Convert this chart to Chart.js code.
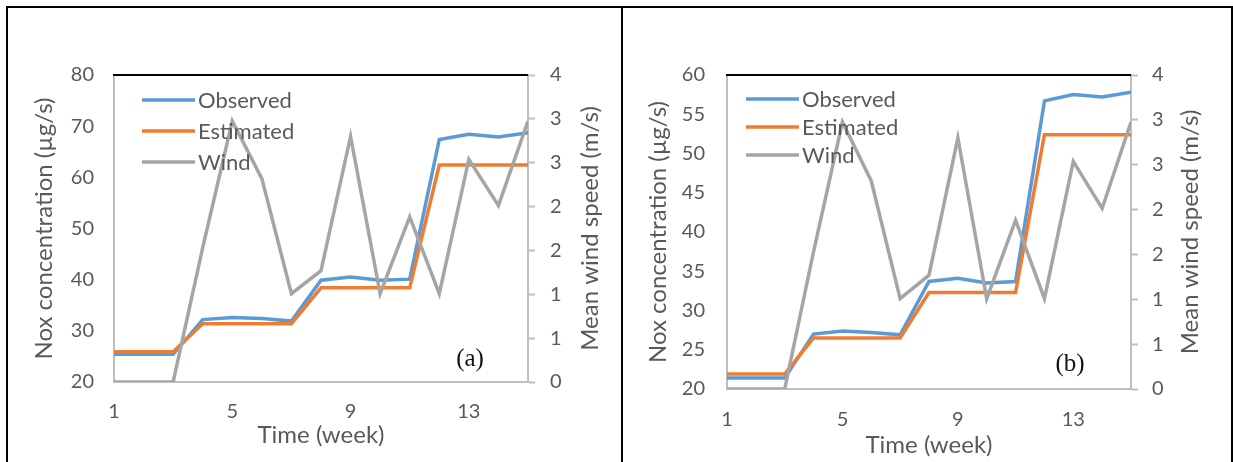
<!DOCTYPE html>
<html>
<head>
<meta charset="utf-8">
<script src="https://cdn.jsdelivr.net/npm/chart.js@4"></script>
<style>
  html, body { margin: 0; padding: 0; background: #fff; }
  body { width: 1233px; height: 462px; position: relative; overflow: hidden; }
  .rule { position: absolute; background: #000; }
  .panel { position: absolute; top: 8px; }
</style>
</head>
<body>
<div class="rule" style="left:6px; top:6px; width:1227px; height:2px"></div>
<div class="rule" style="left:6px; top:6px; width:2px; height:456px"></div>
<div class="rule" style="left:621px; top:6px; width:2px; height:456px"></div>
<div class="rule" style="left:1231px; top:6px; width:2px; height:456px"></div>

<div class="panel" style="left:8px"><canvas id="chartA" width="613" height="454"></canvas></div>
<div class="panel" style="left:623px"><canvas id="chartB" width="608" height="454"></canvas></div>

<script>
// Weeks and tick labels
const weeks = [1, 2, 3, 4, 5, 6, 7, 8, 9, 10, 11, 12, 13, 14, 15];
const weekTicks = [1, 5, 9, 13];

// Mean wind speed (m/s), same for both panels
const windSpeed = [0, 0, 0, 1.75, 3.4, 2.65, 1.15, 1.45, 3.2, 1.15, 2.15, 1.15, 2.9, 2.3, 3.4];
const windTicks = [0, 0.571, 1.143, 1.714, 2.286, 2.857, 3.429, 4];
const windTickLabels = ['0', '1', '1', '2', '2', '3', '3', '4'];

// Panel (a)
const observedA = [25.4, 25.4, 25.4, 32.2, 32.6, 32.4, 31.9, 39.9, 40.5, 39.9, 40.1, 67.4, 68.4, 67.9, 68.7];
const estimatedA = [25.9, 25.9, 25.9, 31.4, 31.4, 31.4, 31.4, 38.4, 38.4, 38.4, 38.4, 62.4, 62.4, 62.4, 62.4];
const noxTicksA = [20, 30, 40, 50, 60, 70, 80];

// Panel (b)
const observedB = [21.4, 21.4, 21.4, 27.0, 27.4, 27.2, 26.9, 33.7, 34.1, 33.5, 33.7, 56.7, 57.5, 57.2, 57.8];
const estimatedB = [21.9, 21.9, 21.9, 26.5, 26.5, 26.5, 26.5, 32.3, 32.3, 32.3, 32.3, 52.4, 52.4, 52.4, 52.4];
const noxTicksB = [20, 25, 30, 35, 40, 45, 50, 55, 60];

const windTitle = 'Mean wind speed (m/s)';
const textGray = '#595959';
const axisGray = '#BFBFBF';

Chart.defaults.font.family = 'Lato';
Chart.defaults.color = textGray;

// Legend inside the plot, black top edge, right title (reads upwards) and panel letter
const panelDecor = {
  id: 'panelDecor',
  afterDraw(chart, args, opts) {
    const ctx = chart.ctx;
    const area = chart.chartArea;
    ctx.save();

    ctx.strokeStyle = '#000';
    ctx.lineWidth = 2;
    ctx.beginPath();
    ctx.moveTo(area.left - 1, area.top);
    ctx.lineTo(area.right, area.top);
    ctx.stroke();

    ctx.font = '22px Lato';
    ctx.textBaseline = 'middle';
    ctx.textAlign = 'left';
    chart.data.datasets.forEach((ds, i) => {
      const y = area.top + opts.legendTop + i * opts.legendGap;
      const x = area.left + opts.legendLeft;
      ctx.strokeStyle = ds.borderColor;
      ctx.lineWidth = 3.5;
      ctx.beginPath();
      ctx.moveTo(x, y);
      ctx.lineTo(x + 53, y);
      ctx.stroke();
      ctx.fillStyle = textGray;
      ctx.fillText(ds.label, x + 56, y + 1);
    });

    // right axis title, rotated so it reads bottom to top
    ctx.save();
    ctx.translate(area.right + opts.windTitleX, (area.top + area.bottom) / 2);
    ctx.rotate(-Math.PI / 2);
    ctx.font = '24px Lato';
    ctx.textAlign = 'center';
    ctx.fillStyle = textGray;
    ctx.fillText(windTitle, 0, 0);
    ctx.restore();

    ctx.font = '25px "Liberation Serif"';
    ctx.fillStyle = '#111';
    ctx.textAlign = 'center';
    ctx.fillText(opts.letter, area.left + opts.letterX, area.top + opts.letterY);
    ctx.restore();
  }
};

function createChart(canvasId, observed, estimated, noxTicks, geo) {
  const ctx = document.getElementById(canvasId).getContext('2d');
  const toPoints = vals => vals.map((v, i) => ({ x: weeks[i], y: v }));

  new Chart(ctx, {
    type: 'line',
    data: {
      datasets: [
        { label: 'Observed', data: toPoints(observed), borderColor: '#5B9BD5', yAxisID: 'y', order: 3 },
        { label: 'Estimated', data: toPoints(estimated), borderColor: '#ED7D31', yAxisID: 'y', order: 2 },
        { label: 'Wind', data: toPoints(windSpeed), borderColor: '#A5A5A5', yAxisID: 'y2', order: 1 }
      ]
    },
    options: {
      responsive: false,
      animation: false,
      events: [],
      elements: {
        line: { borderWidth: 3.5, tension: 0 },
        point: { radius: 0 }
      },
      layout: { padding: { top: geo.top, left: 0, right: 0, bottom: 0 } },
      plugins: {
        legend: { display: false },
        tooltip: { enabled: false },
        panelDecor: geo.decor
      },
      scales: {
        x: {
          type: 'linear',
          min: 1,
          max: 15,
          afterBuildTicks: s => { s.ticks = weekTicks.map(v => ({ value: v })); },
          afterFit: s => { s.height = geo.xHeight; },
          grid: { display: false, drawTicks: false },
          border: { display: true, color: axisGray, width: 2 },
          ticks: { font: { size: 20 }, padding: geo.xTickPad, maxRotation: 0 },
          title: { display: true, text: 'Time (week)', font: { size: 24 }, padding: { top: 0, bottom: geo.xTitlePad } }
        },
        y: {
          position: 'left',
          min: noxTicks[0],
          max: noxTicks[noxTicks.length - 1],
          afterBuildTicks: s => { s.ticks = noxTicks.map(v => ({ value: v })); },
          afterFit: s => { s.width = geo.leftWidth; },
          grid: { display: false, drawTicks: false },
          border: { display: true, color: axisGray, width: 2 },
          ticks: { font: { size: 20 }, padding: geo.leftTickPad },
          title: { display: true, text: 'Nox concentration (µg/s)', font: { size: 24 }, padding: { top: geo.leftTitlePad, bottom: 0 } }
        },
        y2: {
          position: 'right',
          min: 0,
          max: 4,
          afterBuildTicks: s => { s.ticks = windTicks.map(v => ({ value: v })); },
          afterFit: s => { s.width = geo.rightWidth; },
          grid: { display: true, drawOnChartArea: false, drawTicks: true, tickLength: 7, color: axisGray, tickColor: axisGray, tickWidth: 2 },
          border: { display: true, color: axisGray, width: 2 },
          ticks: { font: { size: 20 }, padding: geo.rightTickPad, callback: (v, i) => windTickLabels[i] },
          title: { display: false }
        }
      }
    },
    plugins: [panelDecor]
  });
}

createChart('chartA', observedA, estimatedA, noxTicksA, {
  top: 67, xHeight: 80, leftWidth: 106, rightWidth: 93,
  xTickPad: 18, xTitlePad: 12, leftTickPad: 20, leftTitlePad: 22, rightTickPad: 15,
  decor: { legendLeft: 28, legendTop: 25, legendGap: 31, windTitleX: 62, letter: '(a)', letterX: 356, letterY: 284 }
});

createChart('chartB', observedB, estimatedB, noxTicksB, {
  top: 67, xHeight: 73, leftWidth: 104, rightWidth: 100,
  xTickPad: 19, xTitlePad: 2, leftTickPad: 22, leftTitlePad: 21, rightTickPad: 14,
  decor: { legendLeft: 19, legendTop: 24, legendGap: 28, windTitleX: 59, letter: '(b)', letterX: 343, letterY: 289 }
});
</script>
</body>
</html>
